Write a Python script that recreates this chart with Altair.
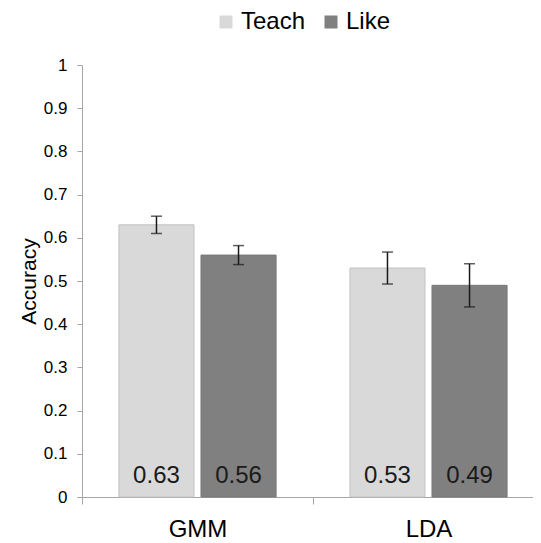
import altair as alt
import pandas as pd

categories = ["GMM", "LDA"]
series = ["Teach", "Like"]
teach_values = [0.63, 0.53]
like_values = [0.56, 0.49]
teach_errors = [0.02, 0.037]
like_errors = [0.022, 0.05]
colors = ["#d9d9d9", "#808080"]
edge_colors = ["#c2c2c2", "#787878"]

rows = []
for i, cat in enumerate(categories):
    for s, vals, errs in (("Teach", teach_values, teach_errors), ("Like", like_values, like_errors)):
        rows.append({
            "model": cat,
            "series": s,
            "value": vals[i],
            "lo": vals[i] - errs[i],
            "hi": vals[i] + errs[i],
        })
df = pd.DataFrame(rows)

FONT = "Liberation Sans"

base = alt.Chart(df).encode(
    x=alt.X(
        "model:N",
        sort=categories,
        title=None,
        scale=alt.Scale(paddingInner=0, paddingOuter=0, range=[0, 462]),
    ),
    xOffset=alt.XOffset(
        "series:N",
        sort=series,
        scale=alt.Scale(domain=series, paddingInner=0.085, paddingOuter=0.45),
    ),
)

bars = base.mark_bar(strokeWidth=1).encode(
    y=alt.Y(
        "value:Q",
        title="Accuracy",
        scale=alt.Scale(domain=[0, 1], nice=False),
        axis=alt.Axis(values=[i / 10 for i in range(11)], format="~g"),
    ),
    color=alt.Color(
        "series:N",
        sort=series,
        scale=alt.Scale(domain=series, range=colors),
        legend=alt.Legend(title=None),
    ),
    stroke=alt.Stroke(
        "series:N",
        scale=alt.Scale(domain=series, range=edge_colors),
        legend=None,
    ),
)

rules = base.mark_rule(color="#1a1a1a", strokeWidth=1.5).encode(
    y=alt.Y("lo:Q", title="Accuracy"),
    y2="hi:Q",
)
caps_hi = base.mark_tick(color="#1a1a1a", size=11, thickness=1.5).encode(
    y=alt.Y("hi:Q", title="Accuracy"),
)
caps_lo = base.mark_tick(color="#1a1a1a", size=11, thickness=1.5).encode(
    y=alt.Y("lo:Q", title="Accuracy"),
)
labels = base.mark_text(
    baseline="alphabetic", dy=-14, fontSize=24, font=FONT, color="#1a1a1a"
).encode(
    y=alt.datum(0),
    text=alt.Text("value:Q", format=".2f"),
)

chart = (
    alt.layer(bars, rules, caps_hi, caps_lo, labels)
    .properties(
        width=451,
        height=432,
        padding={"left": 74, "top": 57, "right": 0, "bottom": 48},
        autosize=alt.AutoSizeParams(type="none"),
        background="white",
    )
    .configure_view(stroke=None)
    .configure_axis(
        grid=False,
        domainColor="#a6a6a6",
        tickColor="#a6a6a6",
        domainWidth=1,
        tickWidth=1,
        labelFont=FONT,
        titleFont=FONT,
        labelColor="#000000",
        titleColor="#000000",
    )
    .configure_axisY(
        labelFontSize=17,
        tickSize=5,
        labelPadding=10,
        titleFontSize=21,
        titleFontWeight="normal",
        titlePadding=4,
    )
    .configure_axisX(
        labelFontSize=24,
        tickSize=7,
        labelPadding=13,
        labelAngle=0,
        tickBand="extent",
    )
    .configure_legend(
        orient="none",
        legendX=132,
        legendY=-55,
        direction="horizontal",
        labelFont=FONT,
        labelFontSize=24,
        labelColor="#000000",
        symbolType="square",
        symbolSize=169,
        symbolStrokeWidth=0,
        labelOffset=3,
        columnPadding=13,
        padding=0,
    )
)

chart.save("out.html", embed_options={"renderer": "svg", "actions": False})
